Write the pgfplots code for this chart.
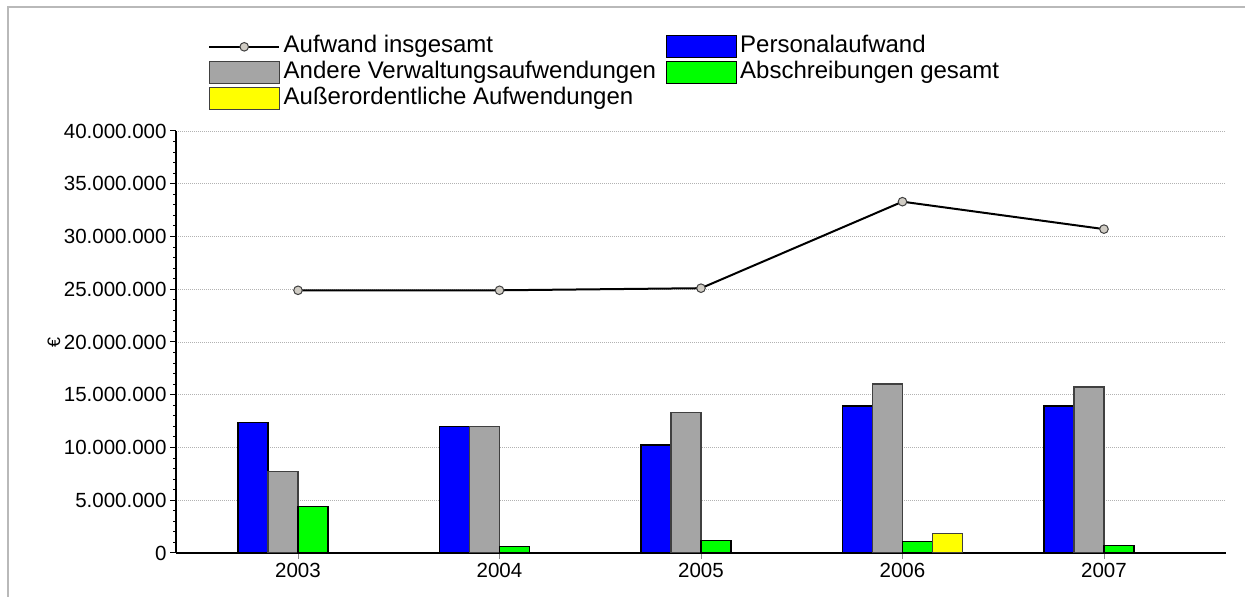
\documentclass[border=0pt]{standalone}
\usepackage{fontspec}
\setmainfont{Liberation Sans}
\usepackage{pgfplots}
\pgfplotsset{compat=1.18}
\definecolor{bblue}{RGB}{0,0,255}
\definecolor{bgray}{RGB}{165,165,165}
\definecolor{bgreen}{RGB}{0,255,0}
\definecolor{byellow}{RGB}{255,255,0}
\definecolor{mfill}{RGB}{208,204,196}
\definecolor{framec}{RGB}{185,185,185}
\pgfplotsset{
  barleg/.style={legend image code/.code={\draw[##1,/tikz/.cd,yshift=0pt] (0pt,-11pt) rectangle (70pt,11pt);}},
  lineleg/.style={legend image code/.code={\draw[mark repeat=2,mark phase=2,##1] plot coordinates {(0pt,0pt) (35pt,0pt) (70pt,0pt)};}},
}
\begin{document}
\begin{tikzpicture}[x=1pt,y=1pt]
\useasboundingbox (0,0) rectangle (1245,597);
\draw[framec, line width=2pt] (8,0) -- (8,590) -- (1245,590);
\begin{axis}[
  at={(176pt,44pt)}, anchor=south west,
  scale only axis, width=1050pt, height=422pt,
  xmin=2002.3945, xmax=2007.6055, ymin=0, ymax=40000000,
  axis x line*=bottom, axis y line*=left,
  x axis line style={-, line width=2.2pt},
  y axis line style={-, line width=2.2pt},
  tick pos=left, tick align=outside,
  xtick={2003,2004,2005,2006,2007},
  xticklabels={2003,2004,2005,2006,2007},
  ytick={0,5000000,...,40000000},
  minor y tick num=4,
  major tick length=6pt, minor tick length=3pt,
  xtick style={black!45, line width=0.8pt},
  ytick style={black, line width=1pt},
  scaled y ticks=false,
  yticklabel style={/pgf/number format/.cd, fixed, precision=0, 1000 sep={.}, assume math mode=true},
  tick label style={font=\fontsize{20.5}{20.5}\selectfont},
  xticklabel style={yshift=-1pt},
  ymajorgrids,
  major grid style={black!30, line width=0.7pt, dash pattern=on 1pt off 1pt},
  ylabel={€},
  ylabel style={at={(axis description cs:0,0.5)}, anchor=center, xshift=0pt, yshift=122pt, font=\fontsize{18}{18}\selectfont},
  legend columns=2,
  legend cell align=left,
  legend style={at={(0.0305,1.2275)}, anchor=north west, draw=none, fill=none, inner sep=0pt,
    font=\fontsize{24}{24}\selectfont,
    nodes={inner sep=0.5pt, text height=17pt, text depth=5pt},
    row sep=2.5pt,
    /tikz/every odd column/.append style={column sep=3pt},
    /tikz/every even column/.append style={column sep=9pt}},
]
\addplot[black, line width=2pt, mark=*, mark size=4.3pt,
  mark options={fill=mfill, draw=black!75, line width=1pt}, lineleg]
  coordinates {(2003,24900000) (2004,24900000) (2005,25100000) (2006,33300000) (2007,30700000)};
\addlegendentry{Aufwand insgesamt}
\addplot[ybar, bar width=0.149, bar shift=-0.2235, fill=bblue, draw=black, line width=1.2pt, barleg]
  coordinates {(2003,12350000) (2004,11970000) (2005,10240000) (2006,13930000) (2007,13930000)};
\addlegendentry{Personalaufwand}
\addplot[ybar, bar width=0.149, bar shift=-0.0745, fill=bgray, draw=black!75, line width=1.2pt, barleg]
  coordinates {(2003,7750000) (2004,11970000) (2005,13300000) (2006,16020000) (2007,15730000)};
\addlegendentry{Andere Verwaltungsaufwendungen}
\addplot[ybar, bar width=0.149, bar shift=0.0745, fill=bgreen, draw=black, line width=1.2pt, barleg]
  coordinates {(2003,4430000) (2004,620000) (2005,1200000) (2006,1100000) (2007,730000)};
\addlegendentry{Abschreibungen gesamt}
\addplot[ybar, bar width=0.149, bar shift=0.2235, fill=byellow, draw=black!75, line width=1.2pt, barleg]
  coordinates {(2006,1870000)};
\addlegendentry{Außerordentliche Aufwendungen}
\end{axis}
\end{tikzpicture}
\end{document}
